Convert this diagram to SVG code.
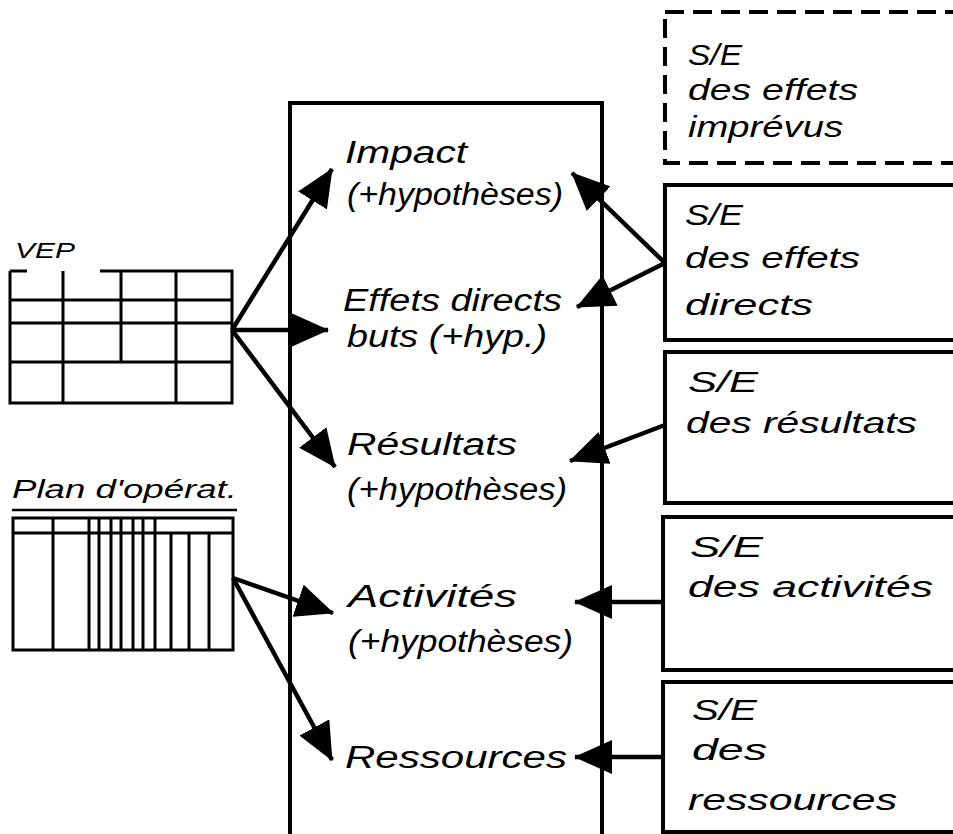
<svg xmlns="http://www.w3.org/2000/svg" width="953" height="834" viewBox="0 0 953 834">
<defs>
<marker id="ah" markerUnits="userSpaceOnUse" markerWidth="38" markerHeight="34" viewBox="0 0 38 34" refX="37" refY="17" orient="auto">
<path d="M0,0 L38,17 L0,34 z" fill="#000"/>
</marker>
<style>
.t{font-family:"Liberation Sans","DejaVu Sans",sans-serif;font-style:italic;fill:#000}
.c{font-size:31px}
.r{font-size:30px}
.box{fill:none;stroke:#000;stroke-width:4}
.grid{fill:none;stroke:#000;stroke-width:3}
.dash{fill:none;stroke:#000;stroke-width:4;stroke-dasharray:19 9}
.conn line{stroke:#000;stroke-width:4.5;marker-end:url(#ah)}
</style>
</defs>
<rect width="953" height="834" fill="#fff"/>

<g id="central">
<path class="box" d="M290,840 V103 H602 V840"/>
<text class="t c" x="345" y="163" textLength="122" lengthAdjust="spacingAndGlyphs">Impact</text>
<text class="t c" x="347" y="205" textLength="216" lengthAdjust="spacingAndGlyphs">(+hypothèses)</text>
<text class="t c" x="343" y="311" textLength="219" lengthAdjust="spacingAndGlyphs">Effets directs</text>
<text class="t c" x="347" y="347" textLength="200" lengthAdjust="spacingAndGlyphs">buts (+hyp.)</text>
<text class="t c" x="347" y="455" textLength="170" lengthAdjust="spacingAndGlyphs">Résultats</text>
<text class="t c" x="347" y="500" textLength="220" lengthAdjust="spacingAndGlyphs">(+hypothèses)</text>
<text class="t c" x="348" y="607" textLength="169" lengthAdjust="spacingAndGlyphs">Activités</text>
<text class="t c" x="348" y="652" textLength="225" lengthAdjust="spacingAndGlyphs">(+hypothèses)</text>
<text class="t c" x="345" y="768" textLength="222" lengthAdjust="spacingAndGlyphs">Ressources</text>
</g>

<g id="vep">
<text class="t" x="15" y="258" font-size="22" textLength="60" lengthAdjust="spacingAndGlyphs">VEP</text>
<path class="grid" d="M10,271 H27 M100,271 H232 V403 H10 V271 M10,300 H232 M10,323 H232 M10,362 H232 M63,271 V403 M121,271 V362 M176,271 V403"/>
</g>

<g id="plan">
<text class="t" x="12" y="498" font-size="26" textLength="225" lengthAdjust="spacingAndGlyphs">Plan d'opérat.</text>
<path d="M12,510 H237" stroke="#000" stroke-width="2.5"/>
<path class="grid" d="M13,518 H233 V650 H13 Z M13,533 H233 M53,518 V650 M89,518 V650 M99,518 V650 M111,518 V650 M121,518 V650 M133,518 V650 M143,518 V650 M155,518 V650 M171,533 V650 M189,533 V650 M209,533 V650"/>
</g>

<g id="se-imprevus">
<rect class="dash" x="665" y="12" width="310" height="151"/>
<text class="t r" x="688" y="65" textLength="54" lengthAdjust="spacingAndGlyphs">S/E</text>
<text class="t r" x="688" y="100" textLength="170" lengthAdjust="spacingAndGlyphs">des effets</text>
<text class="t r" x="688" y="137" textLength="155" lengthAdjust="spacingAndGlyphs">imprévus</text>
</g>

<g id="se-effets-directs">
<rect class="box" x="665" y="185" width="310" height="155"/>
<text class="t r" x="685" y="225" textLength="58" lengthAdjust="spacingAndGlyphs">S/E</text>
<text class="t r" x="685" y="268" textLength="175" lengthAdjust="spacingAndGlyphs">des effets</text>
<text class="t r" x="685" y="315" textLength="128" lengthAdjust="spacingAndGlyphs">directs</text>
</g>

<g id="se-resultats">
<rect class="box" x="665" y="352" width="310" height="151"/>
<text class="t r" x="688" y="392" textLength="70" lengthAdjust="spacingAndGlyphs">S/E</text>
<text class="t r" x="686" y="433" textLength="231" lengthAdjust="spacingAndGlyphs">des résultats</text>
</g>

<g id="se-activites">
<rect class="box" x="663" y="517" width="310" height="153"/>
<text class="t r" x="690" y="557" textLength="73" lengthAdjust="spacingAndGlyphs">S/E</text>
<text class="t r" x="688" y="597" textLength="245" lengthAdjust="spacingAndGlyphs">des activités</text>
</g>

<g id="se-ressources">
<rect class="box" x="663" y="682" width="310" height="150"/>
<text class="t r" x="692" y="720" textLength="65" lengthAdjust="spacingAndGlyphs">S/E</text>
<text class="t r" x="692" y="760" textLength="75" lengthAdjust="spacingAndGlyphs">des</text>
<text class="t r" x="688" y="810" textLength="209" lengthAdjust="spacingAndGlyphs">ressources</text>
</g>

<g id="connectors" class="conn">
<line x1="232" y1="330" x2="332" y2="169"/>
<line x1="232" y1="330" x2="328" y2="330"/>
<line x1="232" y1="330" x2="335" y2="467"/>
<line x1="233" y1="578" x2="333" y2="613"/>
<line x1="233" y1="578" x2="332" y2="760"/>
<line x1="665" y1="263" x2="572" y2="173"/>
<line x1="665" y1="263" x2="577" y2="307"/>
<line x1="665" y1="425" x2="570" y2="461"/>
<line x1="663" y1="602" x2="575" y2="602"/>
<line x1="663" y1="757" x2="575" y2="757"/>
</g>
</svg>
